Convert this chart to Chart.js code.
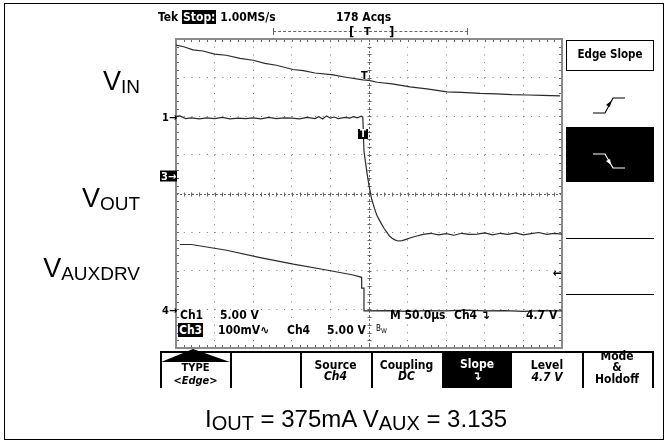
<!DOCTYPE html>
<html lang="en">
<head>
<meta charset="utf-8">
<title>Edge Slope capture</title>
<script src="https://cdn.jsdelivr.net/npm/chart.js@4.4.1/dist/chart.umd.min.js"></script>
<style>
  body { margin: 0; background: #fff; }
  #page { position: relative; width: 667px; height: 442px; overflow: hidden;
          font-family: "DejaVu Sans Condensed", "Liberation Sans Narrow", sans-serif; color: #000; }
  #plot { position: absolute; left: 0; top: 0; width: 667px; height: 442px; }
  .t { position: absolute; white-space: nowrap; line-height: 1; transform: translateY(-50%);
       font-size: 12px; font-weight: bold; }
  .c { text-align: center; }
  .inv { background: #000; color: #fff; padding: 0 1px; }
  .lab { position: absolute; right: 527px; white-space: nowrap; line-height: 1;
         font-family: "Liberation Sans", Arial, sans-serif; font-size: 27px; }
  .lab sub, .cap sub { font-size: 19px; vertical-align: -3px; }
  .cap { position: absolute; left: 205px; top: 407px; white-space: nowrap; line-height: 1;
         font-family: "Liberation Sans", Arial, sans-serif; font-size: 24px; }
  .cap sub { font-size: 20px; }
  .ln { position: absolute; background: #000; }
  .box { position: absolute; border: 1.5px solid #000; box-sizing: border-box; }
  i { font-style: italic; }
</style>
</head>
<body>
<div id="page">
  <div id="plot"><canvas id="scope"></canvas></div>

  <!-- outer frame -->
  <div class="box" style="left:4px;top:3px;width:660px;height:437px;"></div>

  <!-- status line -->
  <div class="t" style="left:158px;top:17px;">Tek <span class="inv">Stop:</span> 1.00MS/s</div>
  <div class="t" style="left:336px;top:17px;">178 Acqs</div>
  <div style="position:absolute;left:273px;top:31px;width:195px;border-top:1px dashed #666;"></div>
  <div class="ln" style="left:273px;top:28px;width:1px;height:7px;background:#666;"></div>
  <div class="ln" style="left:467px;top:28px;width:1px;height:7px;background:#666;"></div>
  <div class="t" style="left:349px;top:31px;font-size:13px;">[</div>
  <div class="t" style="left:364px;top:31px;font-size:11px;">T</div>
  <div class="t" style="left:389px;top:31px;font-size:13px;">]</div>

  <!-- channel labels -->
  <div class="lab" style="top:68px;">V<sub>IN</sub></div>
  <div class="lab" style="top:185px;">V<sub>OUT</sub></div>
  <div class="lab" style="top:255px;">V<sub>AUXDRV</sub></div>

  <!-- ground markers -->
  <div class="t" style="left:162px;top:117px;font-size:11px;">1&#8594;</div>
  <div class="t inv" style="left:160px;top:176px;font-size:11px;">3&#8594;</div>
  <div class="t" style="left:162px;top:310px;font-size:11px;">4&#8594;</div>
  <div class="t" style="left:553px;top:273px;font-size:12px;">&#8592;</div>
  <div class="t" style="left:361px;top:75px;font-size:11px;">T</div>
  <div class="t inv" style="left:358px;top:134px;font-size:10px;padding:0 2px;">T</div>

  <!-- readout -->
  <div class="t" style="left:180px;top:315px;">Ch1</div>
  <div class="t" style="left:220px;top:315px;">5.00 V</div>
  <div class="t" style="left:390px;top:315px;">M 50.0&micro;s</div>
  <div class="t" style="left:454px;top:315px;">Ch4 &#8628;</div>
  <div class="t" style="left:526px;top:315px;">4.7 V</div>
  <div class="t" style="left:178px;top:330px;"><span class="inv">Ch3</span></div>
  <div class="t" style="left:218px;top:330px;">100mV&#8767;</div>
  <div class="t" style="left:287px;top:330px;">Ch4</div>
  <div class="t" style="left:327px;top:330px;">5.00 V</div>
  <div class="t" style="left:376px;top:330px;font-size:8px;font-weight:normal;">B<sub>W</sub></div>

  <!-- side menu -->
  <div class="box" style="left:566px;top:40px;width:88px;height:31px;"></div>
  <div class="t c" style="left:566px;width:88px;top:55px;font-size:11.5px;">Edge Slope</div>
  <svg style="position:absolute;left:590px;top:95px;" width="38" height="20">
    <polyline points="3,18 15,18 23,3 35,3" fill="none" stroke="#000" stroke-width="1.2"/>
    <polygon points="21,6 20,12 16,10" fill="#000"/>
  </svg>
  <div class="ln" style="left:566px;top:127px;width:88px;height:55px;"></div>
  <svg style="position:absolute;left:590px;top:151px;" width="38" height="20">
    <polyline points="3,3 15,3 23,17 35,17" fill="none" stroke="#fff" stroke-width="1.2"/>
    <polygon points="21,14 20,8 16,10" fill="#fff"/>
  </svg>
  <div class="ln" style="left:566px;top:238px;width:88px;height:1px;"></div>
  <div class="ln" style="left:566px;top:294px;width:88px;height:1px;"></div>

  <!-- bottom menu -->
  <div class="ln" style="left:160px;top:351px;width:493px;height:1.5px;"></div>
  <div class="ln" style="left:160px;top:351px;width:1.5px;height:37px;"></div>
  <div class="ln" style="left:230px;top:351px;width:1.5px;height:37px;"></div>
  <div class="ln" style="left:300px;top:351px;width:1.5px;height:37px;"></div>
  <div class="ln" style="left:371px;top:351px;width:1.5px;height:37px;"></div>
  <div class="ln" style="left:442px;top:351px;width:70px;height:37px;"></div>
  <div class="ln" style="left:582px;top:351px;width:1.5px;height:37px;"></div>
  <div class="ln" style="left:652px;top:351px;width:1.5px;height:37px;"></div>
  <svg style="position:absolute;left:160px;top:348px;" width="71" height="15">
    <polygon points="1,14 33,1 70,14" fill="#000"/>
  </svg>
  <div class="t c" style="left:160px;width:71px;top:367px;font-size:11px;">TYPE</div>
  <div class="t c" style="left:160px;width:71px;top:380px;font-size:11px;"><i>&lt;Edge&gt;</i></div>
  <div class="t c" style="left:300px;width:71px;top:365px;">Source</div>
  <div class="t c" style="left:300px;width:71px;top:376px;"><i>Ch4</i></div>
  <div class="t c" style="left:371px;width:71px;top:365px;">Coupling</div>
  <div class="t c" style="left:371px;width:71px;top:376px;"><i>DC</i></div>
  <div class="t c" style="left:442px;width:70px;top:364px;color:#fff;">Slope</div>
  <div class="t c" style="left:442px;width:70px;top:376px;color:#fff;">&#8628;</div>
  <div class="t c" style="left:512px;width:70px;top:365px;">Level</div>
  <div class="t c" style="left:512px;width:70px;top:377px;"><i>4.7 V</i></div>
  <div class="t c" style="left:582px;width:70px;top:356px;">Mode</div>
  <div class="t c" style="left:582px;width:70px;top:367px;">&amp;</div>
  <div class="t c" style="left:582px;width:70px;top:379px;">Holdoff</div>

  <div class="cap">I<sub>OUT</sub> = 375mA V<sub>AUX</sub> = 3.135</div>
</div>

<script>
  // time in divisions (0..10), level in divisions from centre (-4..4)
  const vinTime  = [0, 0.2, 0.44, 0.7, 1.0, 1.3, 1.66, 2.0, 2.3, 2.6, 3.03, 3.3, 3.6, 4.07, 4.4, 4.84,
                    5.0, 5.21, 5.6, 6.06, 6.5, 7.02, 7.4, 7.88, 8.3, 8.7, 9.1, 9.5, 9.95];
  const vinLevel = [3.84, 3.80, 3.72, 3.69, 3.61, 3.58, 3.50, 3.45, 3.37, 3.32, 3.21, 3.18, 3.12, 3.07, 3.01, 2.94,
                    2.93, 2.88, 2.84, 2.76, 2.71, 2.63, 2.62, 2.59, 2.58, 2.56, 2.55, 2.54, 2.53];

  const voutTime  = [0, 0.1, 0.25, 0.4, 0.6, 0.8, 1.0, 1.2, 1.4, 1.6, 1.8, 2.0, 2.2, 2.4, 2.6, 2.8, 3.0,
                     3.2, 3.4, 3.6, 3.7, 3.8, 3.9, 4.0, 4.1, 4.2, 4.3, 4.4, 4.5, 4.6, 4.7, 4.8, 4.84,
                     4.87, 4.91, 4.96, 5.01, 5.07, 5.14, 5.2, 5.27, 5.33, 5.4, 5.46, 5.53, 5.59, 5.67,
                     5.75, 5.86, 5.98, 6.1, 6.24, 6.4, 6.6, 6.8, 7.0, 7.2, 7.4, 7.6, 7.8, 8.0, 8.2,
                     8.4, 8.6, 8.8, 9.0, 9.2, 9.4, 9.6, 9.8, 10];
  const voutLevel = [2.00, 2.01, 1.94, 1.96, 1.93, 1.96, 1.94, 1.97, 1.93, 1.95, 1.94, 1.96, 1.93, 1.97, 1.94, 1.96, 1.95,
                     1.93, 1.97, 1.94, 1.99, 1.93, 2.01, 1.95, 1.98, 1.94, 1.96, 1.97, 1.95, 1.99, 1.96, 2.00, 1.98,
                     1.10, 0.80, 0.45, 0.16, -0.15, -0.38, -0.56, -0.69, -0.80, -0.92, -1.00, -1.10, -1.15, -1.20,
                     -1.23, -1.22, -1.18, -1.14, -1.10, -1.06, -1.03, -1.07, -1.04, -1.08, -1.03, -1.06, -1.05, -1.02, -1.07,
                     -1.03, -1.06, -1.02, -1.07, -1.04, -1.01, -1.06, -1.03, -1.05];

  const auxTime  = [0.1, 0.4, 1.31, 2.18, 3.04, 3.9, 4.59, 4.81, 4.81, 4.87, 4.87, 5.5, 6.0, 6.5, 7.0, 7.5,
                    8.0, 8.5, 9.0, 9.5, 10];
  const auxLevel = [-1.32, -1.32, -1.47, -1.66, -1.83, -1.98, -2.11, -2.17, -2.45, -2.45, -3.04, -3.03, -3.05, -3.03,
                    -3.04, -3.02, -3.04, -3.03, -3.05, -3.03, -3.04];

  const traces = [[vinTime, vinLevel], [voutTime, voutLevel], [auxTime, auxLevel]];

  const graticule = {
    id: 'graticule',
    beforeDatasetsDraw(chart) {
      const { ctx, chartArea: a, scales: { x, y } } = chart;
      ctx.save();
      ctx.strokeStyle = '#666';
      ctx.lineWidth = 1;
      const cx = Math.round(x.getPixelForValue(5)) + 0.5;
      const cy = Math.round(y.getPixelForValue(0)) + 0.5;
      // centre cross with minor ticks
      ctx.setLineDash([2, 2]);
      ctx.beginPath();
      ctx.moveTo(cx, a.top); ctx.lineTo(cx, a.bottom);
      ctx.moveTo(a.left, cy); ctx.lineTo(a.right, cy);
      ctx.stroke();
      ctx.setLineDash([]);
      ctx.beginPath();
      for (let v = 0; v <= 10.001; v += 0.2) {
        const px = Math.round(x.getPixelForValue(v)) + 0.5;
        ctx.moveTo(px, cy - 2); ctx.lineTo(px, cy + 2);
        ctx.moveTo(px, a.top); ctx.lineTo(px, a.top + 3);
        ctx.moveTo(px, a.bottom); ctx.lineTo(px, a.bottom - 3);
      }
      for (let v = -4; v <= 4.001; v += 0.2) {
        const py = Math.round(y.getPixelForValue(v)) + 0.5;
        ctx.moveTo(cx - 2, py); ctx.lineTo(cx + 2, py);
        ctx.moveTo(a.left, py); ctx.lineTo(a.left + 3, py);
        ctx.moveTo(a.right, py); ctx.lineTo(a.right - 3, py);
      }
      ctx.stroke();
      ctx.strokeStyle = '#8a8a8a';
      ctx.lineWidth = 2;
      ctx.strokeRect(a.left, a.top, a.right - a.left, a.bottom - a.top);
      ctx.restore();
    }
  };

  new Chart(document.getElementById('scope'), {
    type: 'scatter',
    data: {
      datasets: traces.map(([t, v]) => ({
        data: t.map((tt, i) => ({ x: tt, y: v[i] })),
        showLine: true,
        borderColor: '#2a2a2a',
        borderWidth: 1.2,
        pointRadius: 0,
        tension: 0
      }))
    },
    options: {
      responsive: true,
      maintainAspectRatio: false,
      animation: false,
      events: [],
      layout: { padding: { left: 176, top: 39, right: 105, bottom: 94 } },
      plugins: { legend: { display: false }, tooltip: { enabled: false } },
      scales: {
        x: {
          type: 'linear', min: 0, max: 10,
          ticks: { display: false, stepSize: 1 },
          grid: { color: '#777', lineWidth: 1, drawTicks: false },
          border: { display: false, dash: [1, 6.72] }
        },
        y: {
          type: 'linear', min: -4, max: 4,
          ticks: { display: false, stepSize: 1 },
          grid: { color: '#777', lineWidth: 1, drawTicks: false },
          border: { display: false, dash: [1, 6.72] }
        }
      }
    },
    plugins: [graticule]
  });
</script>
</body>
</html>
